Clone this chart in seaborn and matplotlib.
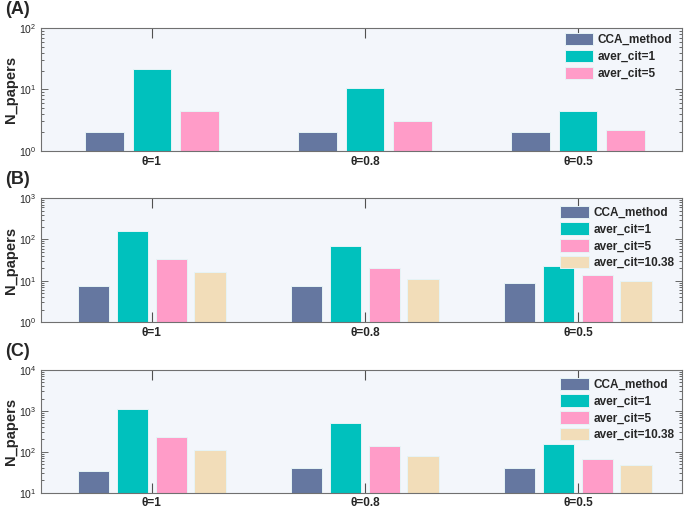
import pandas as pd
import seaborn as sns
import matplotlib.pyplot as plt

thetas = ['θ=1', 'θ=0.8', 'θ=0.5']
methods = ['CCA_method', 'aver_cit=1', 'aver_cit=5', 'aver_cit=10.38']
colors = ['#6577a0', '#00c1bd', '#ff9cc8', '#f2ddb9']

# values, one list per method (per theta)
a_cca = [2.05, 2.05, 2.05]
a_cit1 = [21.3, 10.4, 4.5]
a_cit5 = [4.5, 3.1, 2.2]

b_cca = [7.5, 7.5, 8.6]
b_cit1 = [164, 69, 23]
b_cit5 = [33.5, 20, 14]
b_cit10 = [16.5, 11.3, 9.7]

c_cca = [34.5, 40, 40]
c_cit1 = [1110, 495, 152]
c_cit5 = [225, 138, 68]
c_cit10 = [110, 77, 47]

panels = [
    ('(A)', [a_cca, a_cit1, a_cit5], (1, 100)),
    ('(B)', [b_cca, b_cit1, b_cit5, b_cit10], (1, 1000)),
    ('(C)', [c_cca, c_cit1, c_cit5, c_cit10], (10, 10000)),
]

sns.set_style('ticks')
plt.rcParams['font.family'] = ['Liberation Sans', 'DejaVu Sans']

fig = plt.figure(figsize=(6.85, 5.11), dpi=100)
# axes boxes in figure fraction: left, bottom, width, height
boxes = [(0.06, 0.705, 0.936, 0.240),
         (0.06, 0.370, 0.936, 0.242),
         (0.06, 0.036, 0.936, 0.240)]
legend_anchor = [(0.817, 0.96), (0.81, 0.94), (0.81, 0.937)]

for i, (tag, series, ylim) in enumerate(panels):
    ax = fig.add_axes(boxes[i])
    n = len(series)
    rows = []
    for m, vals in zip(methods[:n], series):
        for t, v in zip(thetas, vals):
            rows.append({'theta': t, 'method': m, 'N_papers': v})
    df = pd.DataFrame(rows)
    ax.set_yscale('log')
    sns.barplot(data=df, x='theta', y='N_papers', hue='method',
                palette=colors[:n], saturation=1,
                width=0.67 if n == 3 else 0.73,
                gap=0.19, ax=ax, edgecolor='#e6f4f6', linewidth=0.7,
                errorbar=None)
    ax.set_yscale('log')
    ax.set_ylim(*ylim)
    ax.set_xlim(-0.52, 2.49)
    ax.set_facecolor('#f3f6fb')
    ax.set_xlabel('')
    ax.set_ylabel('N_papers', fontsize=10.5, fontweight='bold')
    ax.yaxis.set_label_coords(-0.036, 0.5)
    for s in ax.spines.values():
        s.set_visible(True)
        s.set_color('#707070')
        s.set_linewidth(0.8)
    ax.tick_params(axis='x', which='both', direction='in', top=True,
                   length=7, width=0.8, color='#505050', labelsize=8.5)
    ax.tick_params(axis='y', which='both', direction='in', right=True,
                   width=0.6, color='#505050', labelsize=7.5)
    ax.tick_params(axis='y', which='major', length=5)
    ax.tick_params(axis='y', which='minor', length=2.5)
    for lab in ax.get_xticklabels():
        lab.set_fontweight('bold')
    ax.legend(loc='upper left', bbox_to_anchor=legend_anchor[i],
              frameon=False, borderpad=0, borderaxespad=0,
              handlelength=2.4, handleheight=1.25, handletextpad=0.4,
              labelspacing=0.3, prop={'weight': 'bold', 'size': 8.5})
    fig.text(0.008, boxes[i][1] + boxes[i][3] + 0.02, tag,
             fontsize=13, fontweight='bold', va='bottom', ha='left')

fig.savefig('out.png', dpi=100)
